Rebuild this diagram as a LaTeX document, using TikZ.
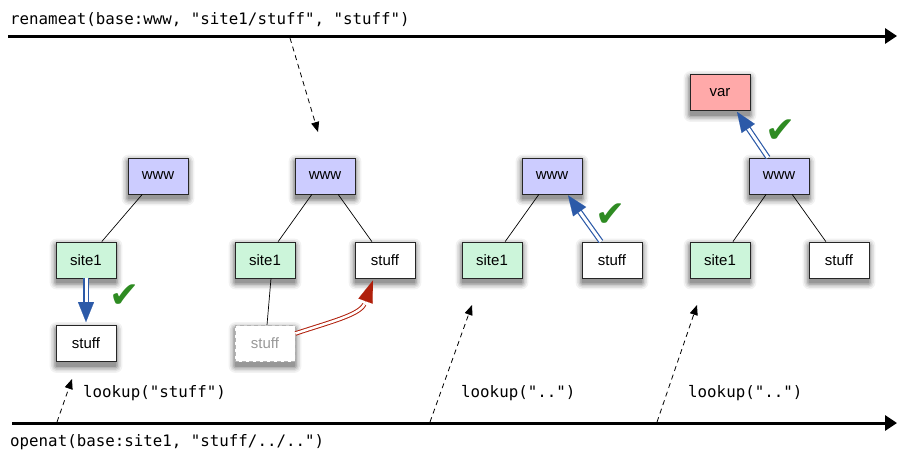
\documentclass[tikz,border=0pt]{standalone}
\usepackage{fontspec}
\setmainfont{Liberation Sans}
\setmonofont{DejaVu Sans Mono}
\newfontfamily\chkfont{DejaVu Sans}
\usetikzlibrary{arrows.meta,calc,backgrounds}
\definecolor{wwwfill}{HTML}{CCCCFF}
\definecolor{sitefill}{HTML}{CCF5DA}
\definecolor{varfill}{HTML}{FFA9A9}
\definecolor{arrblue}{HTML}{2C5AA8}
\definecolor{arrred}{HTML}{B0200C}
\definecolor{chkgreen}{HTML}{2E8B22}
\newcommand\boxshadow[1]{%
  \foreach \r/\o in {7/0.05,5.5/0.07,4/0.09,2.5/0.12,1/0.16}{%
    \fill[black, opacity=\o, rounded corners=\r pt]
      ($(#1.north west)+(-\r+1,4-\r)$) rectangle ($(#1.south east)+(\r-1,4+\r)$);}}
\begin{document}
\begin{tikzpicture}[x=1pt,y=-1pt,
  box/.style={draw=black!85, line width=0.8pt, minimum width=60pt, minimum height=36pt,
    inner sep=0pt, font=\fontsize{15}{18}\selectfont},
  wwwbox/.style={box, fill=wwwfill},
  sitebox/.style={box, fill=sitefill},
  varbox/.style={box, fill=varfill},
  plainbox/.style={box, fill=white},
  ghostbox/.style={box, fill=white, draw=black!30, dash pattern=on 4pt off 3pt, text=black!40},
  tree/.style={line width=0.7pt, black},
  code/.style={font=\ttfamily\fontsize{15.8}{18}\selectfont, inner sep=0pt, anchor=base west},
  timeline/.style={line width=3pt, -{Triangle[length=12pt,width=15pt]}},
  call/.style={line width=0.8pt, dash pattern=on 5pt off 4pt, -{Triangle[length=10pt,width=8pt]}},
  bshaft/.style={draw=arrblue, double=white, double distance=3pt, line width=1.2pt},
  bhead/.style={arrblue, line width=0.1pt, -{Triangle[length=20pt,width=16pt]}},
  rshaft/.style={draw=arrred, double=white, double distance=2.5pt, line width=1pt},
  rhead/.style={arrred, line width=0.1pt, -{Triangle[length=22pt,width=15pt]}},
  chk/.style={text=chkgreen, font=\chkfont\fontsize{36}{36}\selectfont, inner sep=0pt}
]
\useasboundingbox (0,0) rectangle (897,450);

% timelines
\coordinate (t1s) at (8,36);
\coordinate (t1e) at (897,36);
\coordinate (t2s) at (12,423);
\coordinate (t2e) at (897,423);
\draw[timeline] (t1s) -- (t1e);
\draw[timeline] (t2s) -- (t2e);
\node[code] (rename) at (10,24) {renameat(base:www, "site1/stuff", "stuff")};
\node[code] (openat) at (10,446) {openat(base:site1, "stuff/../..")};
\node[code] (lk1) at (83,397) {lookup("stuff")};
\node[code] (lk2) at (461,397) {lookup("..")};
\node[code] (lk3) at (688,397) {lookup("..")};

% panel 1
\node[wwwbox] (w1) at (158,176) {www};
\node[sitebox] (s1) at (86,260) {site1};
\node[plainbox] (st1) at (86,343.5) {stuff};
\draw[tree] (w1) -- (s1);

% panel 2
\node[wwwbox] (w2) at (325,176) {www};
\node[sitebox] (s2) at (265,260) {site1};
\node[plainbox] (st2) at (385,260) {stuff};
\node[ghostbox] (g2) at (265,343.5) {stuff};
\draw[tree] (w2) -- (s2);
\draw[tree] (w2) -- (st2);
\draw[tree] ([xshift=6pt]s2.south) -- ([xshift=2pt]g2.north);

% panel 3
\node[wwwbox] (w3) at (552,176) {www};
\node[sitebox] (s3) at (492,260) {site1};
\node[plainbox] (st3) at (612,260) {stuff};
\draw[tree] (w3) -- (s3);

% panel 4
\node[varbox] (v4) at (720,92.5) {var};
\node[wwwbox] (w4) at (779,176) {www};
\node[sitebox] (s4) at (720,260) {site1};
\node[plainbox] (st4) at (839,260) {stuff};
\draw[tree] (w4) -- (s4);
\draw[tree] (w4) -- (st4);

% soft shadows behind boxes
\begin{scope}[on background layer]
  \foreach \n in {w1,s1,st1,w2,s2,st2,g2,w3,s3,st3,v4,w4,s4,st4}{\boxshadow{\n}}
\end{scope}

% blue double arrows
\coordinate (a1s) at (s1.south);
\coordinate (a1t) at ([yshift=3pt]st1.north);
\draw[bshaft] (a1s) -- ($(a1t)!18pt!(a1s)$);
\draw[bhead] ($(a1t)!20pt!(a1s)$) -- (a1t);

\coordinate (a3s) at ([xshift=-11pt]st3.north);
\coordinate (a3t) at ([xshift=16pt,yshift=-1pt]w3.south);
\draw[bshaft] (a3s) -- ($(a3t)!18pt!(a3s)$);
\draw[bhead] ($(a3t)!20pt!(a3s)$) -- (a3t);

\coordinate (a4s) at ([xshift=-11pt]w4.north);
\coordinate (a4t) at ([xshift=17pt,yshift=-1pt]v4.south);
\draw[bshaft] (a4s) -- ($(a4t)!18pt!(a4s)$);
\draw[bhead] ($(a4t)!20pt!(a4s)$) -- (a4t);

% red double arrow
\coordinate (rs) at ([yshift=10pt]g2.east);
\coordinate (rt) at ([xshift=-12pt,yshift=-2pt]st2.south);
\coordinate (rb) at ($(rt)+(-8,22)$);
\draw[rshaft] (rs) .. controls (330,322) and (359,315) .. ($(rb)!-2pt!(rt)$);
\draw[rhead] (rb) -- (rt);

% check marks
\node[chk] (c1) at (124.5,296.5) {✔};
\node[chk] (c3) at (611,215) {✔};
\node[chk] (c4) at (781,131) {✔};

% dashed call arrows
\coordinate (d0s) at (290,38);
\coordinate (d0t) at (318,132);
\draw[call] (d0s) -- (d0t);
\coordinate (d1s) at (57,422);
\coordinate (d1t) at (72,379);
\draw[call] (d1s) -- (d1t);
\coordinate (d2s) at (430,422);
\coordinate (d2t) at (472,305);
\draw[call] (d2s) -- (d2t);
\coordinate (d3s) at (657,422);
\coordinate (d3t) at (697,305);
\draw[call] (d3s) -- (d3t);
\end{tikzpicture}
\end{document}
